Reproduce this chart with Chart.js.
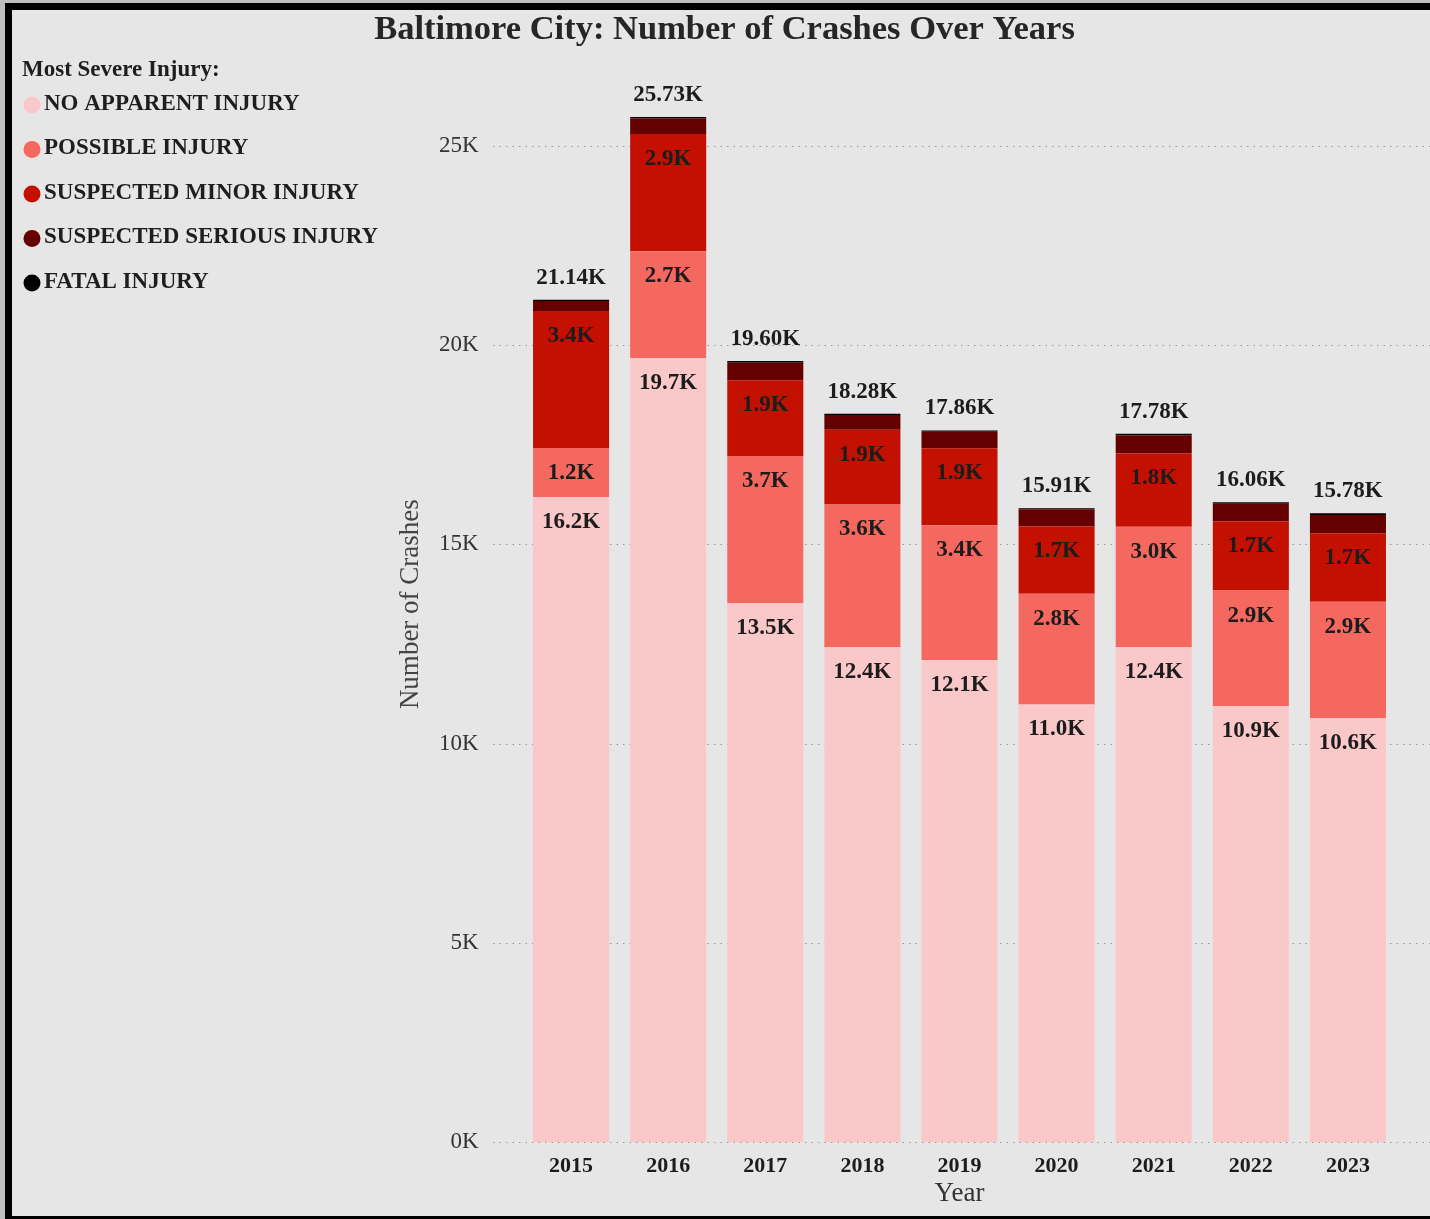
<!DOCTYPE html>
<html>
<head>
<meta charset="utf-8">
<title>Baltimore City crashes</title>
<script src="https://cdn.jsdelivr.net/npm/chart.js@4/dist/chart.umd.min.js"></script>
<style>
	html, body { margin: 0; background: #bfbfbf; overflow: hidden; width: 1430px; height: 1219px; }
	#marco {
		position: absolute; left: 5px; top: 3px;
		width: 1418px; height: 1206px;
		border: 7px solid #000;
		border-right: none;
		background: #e6e6e6;
	}
	#myChart { position: absolute; left: 0; top: 0; }
</style>
</head>
<body>
<div id="marco"></div>
<canvas id="myChart" width="1430" height="1219"></canvas>
<script>
var years = ['2015', '2016', '2017', '2018', '2019', '2020', '2021', '2022', '2023'];
var noApparent = [16190, 19680, 13520, 12420, 12100, 10980, 12420, 10940, 10640];
var possible = [1230, 2680, 3700, 3580, 3380, 2780, 3020, 2900, 2920];
var minor = [3440, 2940, 1900, 1880, 1930, 1690, 1840, 1740, 1720];
var serious = [250, 390, 440, 370, 420, 430, 460, 440, 460];
var fatal = [30, 40, 40, 30, 30, 30, 40, 40, 40];
var yTicks = [0, 5000, 10000, 15000, 20000, 25000];

var nombres = ['NO APPARENT INJURY', 'POSSIBLE INJURY', 'SUSPECTED MINOR INJURY', 'SUSPECTED SERIOUS INJURY', 'FATAL INJURY'];
var colores = ['#fac8c8', '#f4685f', '#c31000', '#640000', '#000000'];
var series = [noApparent, possible, minor, serious, fatal];
var serif = "'Liberation Serif', 'Times New Roman', serif";

function totalAnio(i) {
	var t = 0;
	for (var s = 0; s < series.length; s++) t += series[s][i];
	return t;
}

// dotted gridlines wider than the chart area, like the original
var rejilla = {
	id: 'rejilla',
	beforeDatasetsDraw: function(chart) {
		var ctx = chart.ctx;
		var y = chart.scales.y;
		ctx.save();
		ctx.strokeStyle = '#9a9a9a';
		ctx.lineWidth = 1.2;
		ctx.setLineDash([1.5, 5]);
		for (var i = 0; i < yTicks.length; i++) {
			var py = Math.round(y.getPixelForValue(yTicks[i])) + 0.5;
			ctx.beginPath();
			ctx.moveTo(493, py);
			ctx.lineTo(1430, py);
			ctx.stroke();
		}
		ctx.restore();
	}
};

// segment labels and totals
var etiquetas = {
	id: 'etiquetas',
	afterDatasetsDraw: function(chart) {
		var ctx = chart.ctx;
		ctx.save();
		ctx.font = 'bold 23px ' + serif;
		ctx.fillStyle = '#1c1c1c';
		ctx.textAlign = 'center';
		ctx.textBaseline = 'middle';
		for (var d = 0; d < 3; d++) {
			var meta = chart.getDatasetMeta(d);
			for (var i = 0; i < meta.data.length; i++) {
				var bar = meta.data[i];
				var v = chart.data.datasets[d].data[i];
				ctx.fillText((v / 1000).toFixed(1) + 'K', bar.x, bar.y + 25);
			}
		}
		var top = chart.getDatasetMeta(4);
		for (var j = 0; j < top.data.length; j++) {
			var b = top.data[j];
			ctx.fillText((totalAnio(j) / 1000).toFixed(2) + 'K', b.x, b.y - 22);
		}
		ctx.restore();
	}
};

// title and legend
var leyenda = {
	id: 'leyenda',
	afterDraw: function(chart) {
		var ctx = chart.ctx;
		ctx.save();
		ctx.textBaseline = 'middle';
		ctx.textAlign = 'center';
		ctx.fillStyle = '#262626';
		ctx.font = 'bold 34.5px ' + serif;
		ctx.fillText('Baltimore City: Number of Crashes Over Years', 724.5, 30);
		ctx.textAlign = 'left';
		ctx.fillStyle = '#1e1e1e';
		ctx.font = 'bold 23px ' + serif;
		ctx.fillText('Most Severe Injury:', 22, 70);
		var ds = chart.data.datasets;
		for (var i = 0; i < ds.length; i++) {
			var yy = 104 + i * 44.5;
			ctx.beginPath();
			ctx.fillStyle = ds[i].backgroundColor;
			ctx.arc(32, yy + 1, 8.5, 0, Math.PI * 2);
			ctx.fill();
			ctx.fillStyle = '#1e1e1e';
			ctx.fillText(ds[i].label, 44, yy);
		}
		ctx.restore();
	}
};

var datasets = [];
for (var s = 0; s < series.length; s++) {
	datasets.push({
		label: nombres[s],
		data: series[s],
		backgroundColor: colores[s],
		borderWidth: 0,
		categoryPercentage: 1,
		barPercentage: 0.783
	});
}

var ctx = document.getElementById('myChart');
var grafico = new Chart(ctx, {
	type: 'bar',
	data: { labels: years, datasets: datasets },
	plugins: [rejilla, etiquetas, leyenda],
	options: {
		responsive: false,
		animation: false,
		layout: { padding: { left: 380, right: 33.5, top: 66.3, bottom: 8 } },
		plugins: {
			legend: { display: false },
			tooltip: { enabled: false },
			title: { display: false }
		},
		scales: {
			x: {
				stacked: true,
				grid: { display: false, drawTicks: false },
				border: { display: false },
				ticks: {
					color: '#1c1c1c',
					padding: 11,
					font: { family: serif, size: 22, weight: 'bold' }
				},
				title: {
					display: true,
					text: 'Year',
					color: '#333',
					font: { family: serif, size: 27, lineHeight: 1.2 },
					padding: { top: 0, bottom: 1 }
				},
				afterFit: function(scale) { scale.height = 69; }
			},
			y: {
				stacked: true,
				min: 0,
				max: 27000,
				grid: { display: false, drawTicks: false },
				border: { display: false },
				afterBuildTicks: function(scale) {
					scale.ticks = yTicks.map(function(v) { return { value: v }; });
				},
				ticks: {
					color: '#333',
					padding: 44,
					font: { family: serif, size: 23 },
					callback: function(v) {
						return (v / 1000) + 'K';
					}
				},
				title: {
					display: true,
					text: 'Number of Crashes',
					color: '#444',
					font: { family: serif, size: 27, lineHeight: 1.2 },
					padding: { top: 15, bottom: 0 }
				},
				afterFit: function(scale) { scale.width = 142.5; }
			}
		}
	}
});
</script>
</body>
</html>
